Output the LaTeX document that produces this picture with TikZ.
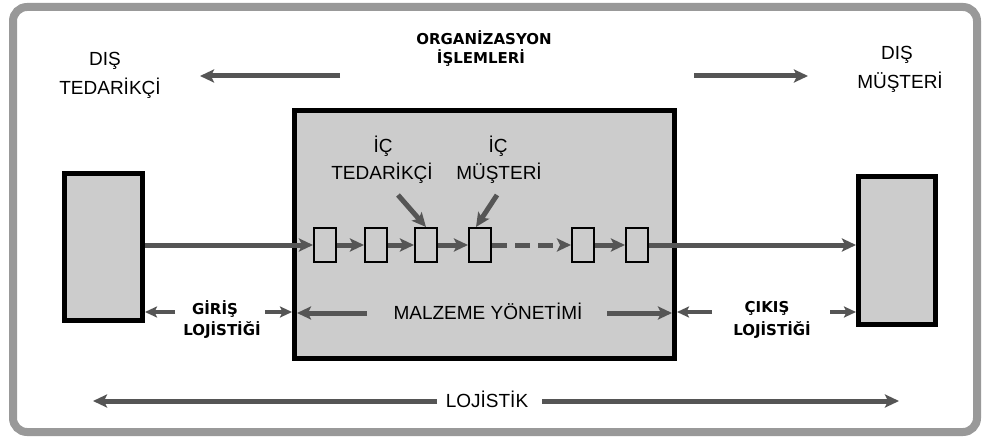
\documentclass[tikz,border=0pt]{standalone}
\usepackage{fontspec}
\setmainfont{Liberation Sans}
\newfontfamily\wideb{DejaVu Sans}
\usetikzlibrary{arrows.meta}
\definecolor{framegray}{HTML}{999999}
\definecolor{boxgray}{HTML}{CCCCCC}
\definecolor{flowgray}{HTML}{555555}

\begin{document}
\begin{tikzpicture}[x=1pt,y=-1pt,
  lbl/.style={font=\fontsize{19}{23}\selectfont, anchor=base, inner sep=0pt},
  blbl/.style={font=\wideb\bfseries\fontsize{15}{18}\selectfont, anchor=base, inner sep=0pt},
  party/.style={draw=black, fill=boxgray, line width=5pt, inner sep=0pt},
  stagebox/.style={draw=black, fill=boxgray, line width=2pt, inner sep=0pt,
                   minimum width=22, minimum height=34},
  flow/.style={draw=flowgray, line width=5pt,
               -{Stealth[length=14pt,width=13pt,inset=3pt]}},
  thinflow/.style={draw=flowgray, line width=4pt,
               -{Stealth[length=12pt,width=11pt,inset=2.5pt]}}
]
\useasboundingbox (0,0) rectangle (984,438);
\fill[white] (0,0) rectangle (984,438);

% outer frame
\draw[line width=8pt, framegray, rounded corners=14pt] (13,7) rectangle (977,432);

% parties: external supplier, organisation, external customer
\node[party, minimum width=78, minimum height=147] (lbox) at (103.5,247) {};
\node[party, minimum width=380, minimum height=248] (mbox) at (484.5,234.5) {};
\node[party, minimum width=77, minimum height=148] (rbox) at (897,250.5) {};

% internal process stages
\node[stagebox] (b1) at (325,245) {};
\node[stagebox] (b2) at (376,245) {};
\node[stagebox] (b3) at (426,245) {};
\node[stagebox] (b4) at (480,245) {};
\node[stagebox] (b5) at (583,245) {};
\node[stagebox] (b6) at (637,245) {};

% material flow through the chain
\draw[flow] (lbox.east |- b1.west) -- (b1.west);
\draw[flow] (b1.east) -- (b2.west);
\draw[flow] (b2.east) -- (b3.west);
\draw[flow] (b3.east) -- (b4.west);
\draw[flow, dash pattern=on 15pt off 8pt] (b4.east) -- (b5.west);
\draw[flow] (b5.east) -- (b6.west);
\draw[flow] (b6.east) -- (rbox.west |- b6.east);

% top labels
\node[lbl] (dis1) at (105,66) {DIŞ};
\node[lbl] (tedarikci) at (110,95) {TEDARİKÇİ};
\node[lbl] (dis2) at (897,60) {DIŞ};
\node[lbl] (musteri) at (900,89) {MÜŞTERİ};
\node[blbl] (org) at (484,45) {ORGANİZASYON};
\node[blbl] (islem) at (481,64) {İŞLEMLERİ};

\coordinate (tl1) at (340,76);
\coordinate (tl2) at (200,76);
\coordinate (tr1) at (694,76);
\coordinate (tr2) at (808,76);
\draw[flow] (tl1) -- (tl2);
\draw[flow] (tr1) -- (tr2);

% internal supplier / customer
\node[lbl] (ic1) at (383,153) {İÇ};
\node[lbl] (itedarikci) at (382,180) {TEDARİKÇİ};
\node[lbl] (ic2) at (498,153) {İÇ};
\node[lbl] (imusteri) at (499,180) {MÜŞTERİ};
\coordinate (itd) at (398,195);
\coordinate (imu) at (497,195);
\draw[flow] (itd) -- (b3.north);
\draw[flow] (imu) -- ([xshift=-4pt]b4.north);

% inbound logistics
\node[blbl] (giris) at (215,314) {GİRİŞ};
\node[blbl] (glojistigi) at (222,335) {LOJİSTİĞİ};
\coordinate (gl) at (175,312);
\coordinate (gr) at (265,312);
\draw[thinflow] (gl) -- (lbox.east |- gl);
\draw[thinflow] (gr) -- (mbox.west |- gr);

% materials management
\node[lbl] (malzeme) at (488,319) {MALZEME YÖNETİMİ};
\coordinate (ml) at (367,313);
\coordinate (mr) at (607,313);
\draw[flow, shorten >=5pt] (ml) -- (mbox.west |- ml);
\draw[flow, shorten >=5pt] (mr) -- (mbox.east |- mr);

% outbound logistics
\node[blbl] (cikis) at (767,312) {ÇIKIŞ};
\node[blbl] (clojistigi) at (772,335) {LOJİSTİĞİ};
\coordinate (cl) at (712,312);
\coordinate (cr) at (830,312);
\draw[thinflow] (cl) -- (mbox.east |- cl);
\draw[thinflow] (cr) -- (rbox.west |- cr);

% logistics span
\node[lbl] (lojistik) at (487,407) {LOJİSTİK};
\coordinate (ll1) at (437,401);
\coordinate (ll2) at (93,401);
\coordinate (lr1) at (542,401);
\coordinate (lr2) at (899,401);
\draw[flow] (ll1) -- (ll2);
\draw[flow] (lr1) -- (lr2);
\end{tikzpicture}
\end{document}
